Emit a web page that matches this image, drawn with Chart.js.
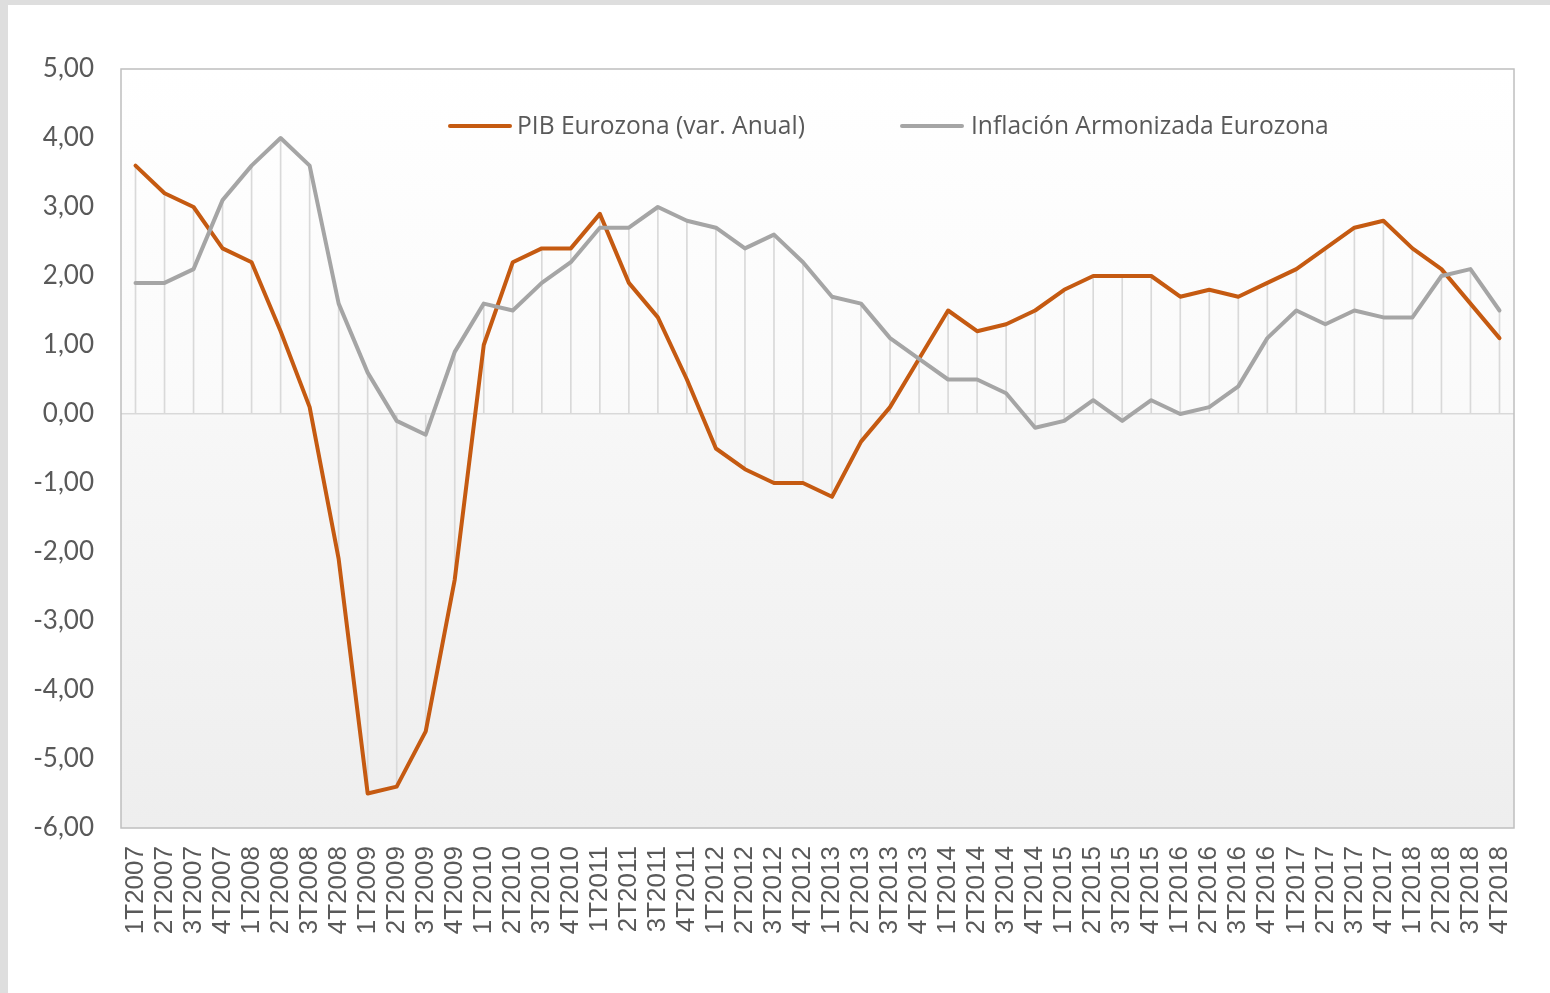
<!DOCTYPE html>
<html><head><meta charset="utf-8">
<script src="https://cdn.jsdelivr.net/npm/chart.js@4/dist/chart.umd.min.js"></script>
<style>
html,body{margin:0;padding:0;background:#dedede;width:1550px;height:993px;overflow:hidden;}
#wrap{position:absolute;left:8px;top:5px;width:1542px;height:988px;background:#fff;}
#c{position:absolute;left:0;top:0;}
.lg{position:absolute;font-family:"Open Sans",Lato,sans-serif;font-size:24.6px;color:#595959;white-space:nowrap;line-height:28px;}
.sw{position:absolute;height:4px;border-radius:2px;}
</style></head>
<body>
<div id="wrap">
<canvas id="c" width="1542" height="988"></canvas>
<div class="sw" style="left:440px;top:119px;width:64px;background:#c55a11"></div>
<div class="lg" style="left:509px;top:106px;">PIB Eurozona (var. Anual)</div>
<div class="sw" style="left:892px;top:119px;width:64px;background:#a5a5a5"></div>
<div class="lg" style="left:963px;top:106px;">Inflación Armonizada Eurozona</div>
</div>
<script>
const categories = [];
const years = [2007,2008,2009,2010,2011,2012,2013,2014,2015,2016,2017,2018];
for (const y of years) for (let q=1;q<=4;q++) categories.push(q+'T'+y);

const pibEurozona = [3.6,3.2,3.0,2.4, 2.2,1.2,0.1,-2.1, -5.5,-5.4,-4.6,-2.4, 1.0,2.2,2.4,2.4,
  2.9,1.9,1.4,0.5, -0.5,-0.8,-1.0,-1.0, -1.2,-0.4,0.1,0.8, 1.5,1.2,1.3,1.5,
  1.8,2.0,2.0,2.0, 1.7,1.8,1.7,1.9, 2.1,2.4,2.7,2.8, 2.4,2.1,1.6,1.1];
const inflacion = [1.9,1.9,2.1,3.1, 3.6,4.0,3.6,1.6, 0.6,-0.1,-0.3,0.9, 1.6,1.5,1.9,2.2,
  2.7,2.7,3.0,2.8, 2.7,2.4,2.6,2.2, 1.7,1.6,1.1,0.8, 0.5,0.5,0.3,-0.2,
  -0.1,0.2,-0.1,0.2, 0.0,0.1,0.4,1.1, 1.5,1.3,1.5,1.4, 1.4,2.0,2.1,1.5];
const yMin = -6, yMax = 5, yStep = 1;

const dropLines = categories.map((_,i)=>[Math.min(0,pibEurozona[i],inflacion[i]), Math.max(0,pibEurozona[i],inflacion[i])]);

const bgPlugin = {
  id:'bg',
  beforeDraw(chart){
    const {ctx, chartArea:a} = chart;
    const g = ctx.createLinearGradient(0,a.top,0,a.bottom);
    g.addColorStop(0,'#ffffff');
    g.addColorStop(0.45,'#fafafa');
    g.addColorStop(0.46,'#f7f7f7');
    g.addColorStop(1,'#eeeeee');
    ctx.save(); ctx.fillStyle=g; ctx.fillRect(a.left,a.top,a.right-a.left,a.bottom-a.top); ctx.restore();
  },
  afterDraw(chart){
    const {ctx, chartArea:a} = chart;
    ctx.save(); ctx.strokeStyle='#bfbfbf'; ctx.lineWidth=1.5;
    ctx.strokeRect(a.left,a.top,a.right-a.left,a.bottom-a.top); ctx.restore();
  }
};

new Chart(document.getElementById('c'), {
  data:{
    labels: categories,
    datasets:[
      {type:'line', label:'Inflación Armonizada Eurozona', data:inflacion, borderColor:'#a5a5a5', borderWidth:4, pointRadius:0, tension:0, order:0, borderJoinStyle:'round', borderCapStyle:'round'},
      {type:'line', label:'PIB Eurozona (var. Anual)', data:pibEurozona, borderColor:'#c55a11', borderWidth:4, pointRadius:0, tension:0, order:1, borderJoinStyle:'round', borderCapStyle:'round'},
      {type:'bar', label:'drop', data:dropLines, backgroundColor:'#d9d9d9', barThickness:1, order:2, borderWidth:0}
    ]
  },
  options:{
    responsive:false, animation:false,
    layout:{padding:{left:0,right:36,top:64,bottom:0}},
    plugins:{legend:{display:false}, tooltip:{enabled:false}},
    scales:{
      x:{
        offset:true,
        grid:{display:false, drawTicks:false},
        border:{display:false},
        ticks:{minRotation:90,maxRotation:90,autoSkip:false,padding:18,color:'#595959',font:{family:'Liberation Sans',size:26}},
        afterFit(s){ s.height = 165; }
      },
      y:{
        min:yMin,max:yMax,
        grid:{drawTicks:false, color:(c)=>c.tick && c.tick.value===0 ? '#d9d9d9':'rgba(0,0,0,0)', lineWidth:1.5},
        border:{display:false},
        ticks:{stepSize:yStep,padding:27,color:'#595959',font:{family:'Lato',size:26},
          callback:(v)=>v.toFixed(2).replace('.',',')},
        afterFit(s){ s.width = 113; }
      }
    }
  },
  plugins:[bgPlugin]
});
</script>
</body></html>
